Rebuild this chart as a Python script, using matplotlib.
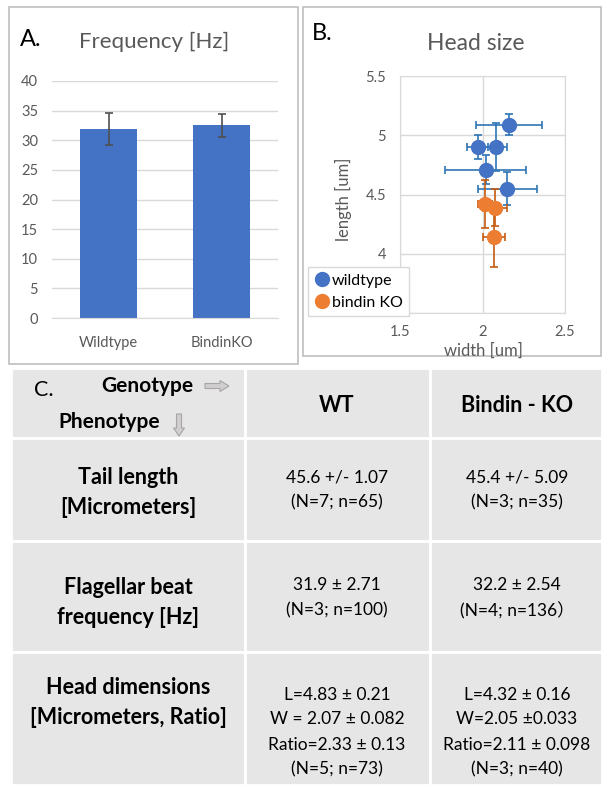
import numpy as np
import matplotlib
matplotlib.use("Agg")
import matplotlib.pyplot as plt
from matplotlib.patches import Rectangle, FancyArrow
from matplotlib.ticker import FuncFormatter

plt.rcParams["font.family"] = ["Lato", "Noto Sans CJK JP", "DejaVu Sans"]

W, H = 602, 785

# panel A: beat frequency bars
genotypes = ["Wildtype", "BindinKO"]
freq_mean = [31.9, 32.5]
freq_err = [2.7, 1.9]

# panel B: head size per animal
wt_width = [2.16, 1.97, 2.08, 2.02, 2.15]
wt_length = [5.09, 4.90, 4.90, 4.71, 4.55]
wt_width_err = [0.20, 0.065, 0.07, 0.245, 0.18]
wt_length_err = [0.09, 0.10, 0.20, 0.12, 0.14]
ko_width = [2.015, 2.075, 2.07]
ko_length = [4.42, 4.39, 4.14]
ko_width_err = [0.04, 0.075, 0.068]
ko_length_err = [0.20, 0.16, 0.25]

# panel C: summary table
col_headers = ["WT", "Bindin - KO"]
row_headers = [["Tail length", "[Micrometers]"],
               ["Flagellar beat", "frequency [Hz]"],
               ["Head dimensions", "[Micrometers, Ratio]"]]
wt_cells = [["45.6 +/- 1.07", "(N=7; n=65)"],
            ["31.9 \u00b1 2.71", "(N=3; n=100)"],
            ["L=4.83 \u00b1 0.21", "W = 2.07 \u00b1 0.082", "Ratio=2.33 \u00b1 0.13", "(N=5; n=73)"]]
ko_cells = [["45.4 +/- 5.09", "(N=3; n=35)"],
            ["32.2 \u00b1 2.54", "(N=4; n=136\uff09"],
            ["L=4.32 \u00b1 0.16", "W=2.05 \u00b10.033", "Ratio=2.11 \u00b1 0.098", "(N=3; n=40)"]]

BLUE = "#4472C4"
ORANGE = "#ED7D31"
GRID = "#D9D9D9"
LABEL = "#595959"


def box(x0, y0, x1, y1):
    return [x0 / W, 1 - y1 / H, (x1 - x0) / W, (y1 - y0) / H]


fig = plt.figure(figsize=(W / 100, H / 100), dpi=100)

# background layer in pixel coordinates
bg = fig.add_axes([0, 0, 1, 1])
bg.set_xlim(0, W)
bg.set_ylim(H, 0)
bg.axis("off")

bg.add_patch(Rectangle((9, 7), 289, 357, fill=False, ec="#BFBFBF", lw=1.2))
bg.add_patch(Rectangle((303, 7), 298, 349, fill=False, ec="#BFBFBF", lw=1.2))

# ---- A ----
axA = fig.add_axes(box(52, 81, 278, 318))
axA.set_facecolor("none")
x = np.arange(len(genotypes))
axA.bar(x, freq_mean, width=0.5, color=BLUE, yerr=freq_err,
        error_kw=dict(ecolor="#505050", elinewidth=1.2, capsize=3, capthick=1.2))
axA.set_xlim(-0.5, 1.5)
axA.set_ylim(0, 40)
axA.set_yticks(range(0, 41, 5))
axA.set_xticks(x)
axA.set_xticklabels(genotypes)
axA.grid(axis="y", color=GRID, lw=1)
axA.set_axisbelow(True)
for s in ["top", "right", "left"]:
    axA.spines[s].set_visible(False)
axA.spines["bottom"].set_color(GRID)
axA.tick_params(length=0, labelcolor=LABEL, labelsize=10.5)
axA.tick_params(axis="x", pad=13)
axA.tick_params(axis="y", pad=10)
bg.text(154, 42, "Frequency [Hz]", ha="center", va="center", fontsize=16, color=LABEL)
bg.text(20, 40, "A.", ha="left", va="center", fontsize=17)

# ---- B ----
axB = fig.add_axes(box(400, 76, 565, 313))
axB.set_facecolor("none")
axB.errorbar(wt_width, wt_length, xerr=wt_width_err, yerr=wt_length_err, fmt="none",
             ecolor="#2E75B6", elinewidth=1.2, capsize=3, capthick=1.2, zorder=2)
axB.plot(wt_width, wt_length, "o", ms=10, color=BLUE, label="wildtype", zorder=3)
axB.errorbar(ko_width, ko_length, xerr=ko_width_err, yerr=ko_length_err, fmt="none",
             ecolor="#C55A11", elinewidth=1.2, capsize=3, capthick=1.2, zorder=4)
axB.plot(ko_width, ko_length, "o", ms=10, color=ORANGE, label="bindin KO", zorder=5)
axB.set_xlim(1.5, 2.5)
axB.set_ylim(3.5, 5.5)
axB.set_xticks([1.5, 2, 2.5])
axB.set_yticks([3.5, 4, 4.5, 5, 5.5])
axB.xaxis.set_major_formatter(FuncFormatter(lambda v, p: f"{v:g}"))
# the 3.5 label sits under the legend in the original
axB.yaxis.set_major_formatter(FuncFormatter(lambda v, p: "" if v < 3.75 else f"{v:g}"))
axB.grid(color=GRID, lw=1)
axB.set_axisbelow(True)
for s in axB.spines.values():
    s.set_color(GRID)
axB.tick_params(length=0, labelcolor=LABEL, labelsize=10.5)
axB.tick_params(axis="x", pad=9)
axB.tick_params(axis="y", pad=10)
bg.text(476, 43, "Head size", ha="center", va="center", fontsize=16.5, color=LABEL)
bg.text(312, 33, "B.", ha="left", va="center", fontsize=17)
bg.text(483, 351, "width [um]", ha="center", va="center", fontsize=12, color=LABEL)
bg.text(343, 199, "length [um]", ha="center", va="center", fontsize=12,
        color=LABEL, rotation=90)
leg = axB.legend(loc="upper left", bbox_to_anchor=(308 / W, 1 - 267 / H),
                 bbox_transform=fig.transFigure, frameon=True, fancybox=False,
                 edgecolor=GRID, framealpha=1, fontsize=11.5, handletextpad=0.1,
                 handlelength=1.0, borderpad=0.4, labelspacing=0.5, borderaxespad=0)
leg.set_zorder(10)

# ---- C ----
col_edges = [11, 245, 430, 602]
row_edges = [368, 438, 541, 652, 785]
for r in range(len(row_edges) - 1):
    for c in range(len(col_edges) - 1):
        bg.add_patch(Rectangle((col_edges[c], row_edges[r]),
                               col_edges[c + 1] - col_edges[c],
                               row_edges[r + 1] - row_edges[r],
                               fc="#E7E6E6", ec="white", lw=2))

bg.text(34, 390, "C.", ha="left", va="center", fontsize=15.5)
bg.text(101, 386, "Genotype", ha="left", va="center", fontsize=15, fontweight="bold")
bg.text(58, 422, "Phenotype", ha="left", va="center", fontsize=15, fontweight="bold")
bg.add_patch(FancyArrow(205, 386, 24, 0, width=5, head_width=11, head_length=9,
                        length_includes_head=True, fc="#D0CECE", ec="#A6A6A6", lw=0.8))
bg.add_patch(FancyArrow(179, 414, 0, 22, width=5, head_width=11, head_length=8,
                        length_includes_head=True, fc="#D0CECE", ec="#A6A6A6", lw=0.8))

col_mid = [128, 337, 517]
for c, txt in enumerate(col_headers):
    bg.text(col_mid[c + 1], 406, txt, ha="center", va="center", fontsize=15.5,
            fontweight="bold")

head_mid = [493, 602, 703]
val_mid = [490, 598, 732]
for r in range(3):
    lines = row_headers[r]
    for i, line in enumerate(lines):
        y = head_mid[r] + (i - (len(lines) - 1) / 2) * 30
        bg.text(col_mid[0], y, line, ha="center", va="center", fontsize=15.5,
                fontweight="bold")
    for c, cells in enumerate([wt_cells, ko_cells]):
        lines = cells[r]
        for i, line in enumerate(lines):
            y = val_mid[r] + (i - (len(lines) - 1) / 2) * 25
            bg.text(col_mid[c + 1], y, line, ha="center", va="center", fontsize=12.5)

fig.savefig("out.png", dpi=100)
